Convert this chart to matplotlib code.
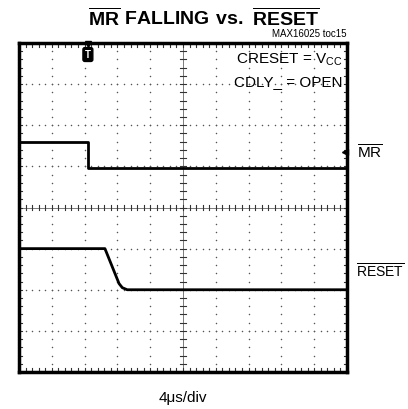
import numpy as np
import matplotlib.pyplot as plt

plt.rcParams['mathtext.fontset'] = 'custom'
plt.rcParams['mathtext.rm'] = 'Liberation Sans'
plt.rcParams['mathtext.bf'] = 'Liberation Sans:bold'
plt.rcParams['font.family'] = ['Liberation Sans', 'DejaVu Sans']

# traces, in scope divisions (x: 0..10, y: 0..8)
mr_x = [0.0, 2.1, 2.1, 10.0]
mr_y = [5.6, 5.6, 4.95, 4.95]
reset_x = [0.0, 2.62, 3.05, 3.15, 3.3, 10.0]
reset_y = [3.0, 3.0, 2.15, 2.05, 2.0, 2.0]

title = r'$\mathbf{\overline{MR}\ FALLING\ vs.\ \overline{RESET}}$'
note = 'MAX16025 toc15'
cond1 = r'CRESET = V$_{\mathrm{CC}}$'
cond2 = 'CDLY_ = OPEN'
time_label = '4\u03bcs/div'

fig = plt.figure(figsize=(4.08, 4.09), dpi=100)
ax = fig.add_axes([19 / 408, 37 / 409, 328 / 408, 329 / 409])
ax.set_xlim(0, 10)
ax.set_ylim(0, 8)
ax.set_xticks([])
ax.set_yticks([])
for s in ax.spines.values():
    s.set_linewidth(2.5)

# dotted graticule
minor_x = np.arange(0, 10.01, 0.2)
minor_y = np.arange(0, 8.01, 0.2)
for gx in range(1, 10):
    if gx != 5:
        ax.scatter(np.full_like(minor_y, gx), minor_y, s=1.2, c='#555555', lw=0)
for gy in range(1, 8):
    if gy != 4:
        ax.scatter(minor_x, np.full_like(minor_x, gy), s=1.2, c='#555555', lw=0)

# center axes with ticks
ax.axvline(5, color='#666666', lw=0.6)
ax.axhline(4, color='#666666', lw=0.6)
for t in minor_y:
    ax.plot([4.9, 5.1], [t, t], color='#333333', lw=0.8)
for t in minor_x:
    ax.plot([t, t], [3.93, 4.07], color='#333333', lw=0.8)
# edge ticks
for t in minor_x:
    ax.plot([t, t], [7.9, 8], color='#333333', lw=0.8)
    ax.plot([t, t], [0, 0.1], color='#333333', lw=0.8)
for t in minor_y:
    ax.plot([0, 0.1], [t, t], color='#333333', lw=0.8)
    ax.plot([9.9, 10], [t, t], color='#333333', lw=0.8)

ax.plot(mr_x, mr_y, color='black', lw=2.0)
ax.plot(reset_x, reset_y, color='black', lw=2.0)

# trigger and ground markers
ax.text(2.1, 7.72, 'T', ha='center', va='center', fontsize=7, color='white', weight='bold',
        bbox=dict(boxstyle='round,pad=0.2', fc='black', ec='black'))
ax.plot([2.1], [7.97], marker='v', color='black', ms=5, clip_on=False)
ax.plot([9.93], [5.35], marker='<', color='black', ms=4, clip_on=False)

ax.text(9.85, 7.6, cond1, ha='right', va='center', fontsize=11)
ax.text(9.85, 7.05, cond2, ha='right', va='center', fontsize=11)

fig.text(0.5, 0.955, title, ha='center', va='center', fontsize=14)
fig.text(347 / 408, 0.917, note, ha='right', va='center', fontsize=7)
fig.text(357 / 408, 1 - 153 / 409, r'$\overline{\mathrm{MR}}$', ha='left', va='center', fontsize=11)
fig.text(356 / 408, 1 - 271 / 409, r'$\overline{\mathrm{RESET}}$', ha='left', va='center', fontsize=10)
fig.text(183 / 408, 1 - 398 / 409, time_label, ha='center', va='center', fontsize=11)

fig.savefig('out.png', dpi=100)
